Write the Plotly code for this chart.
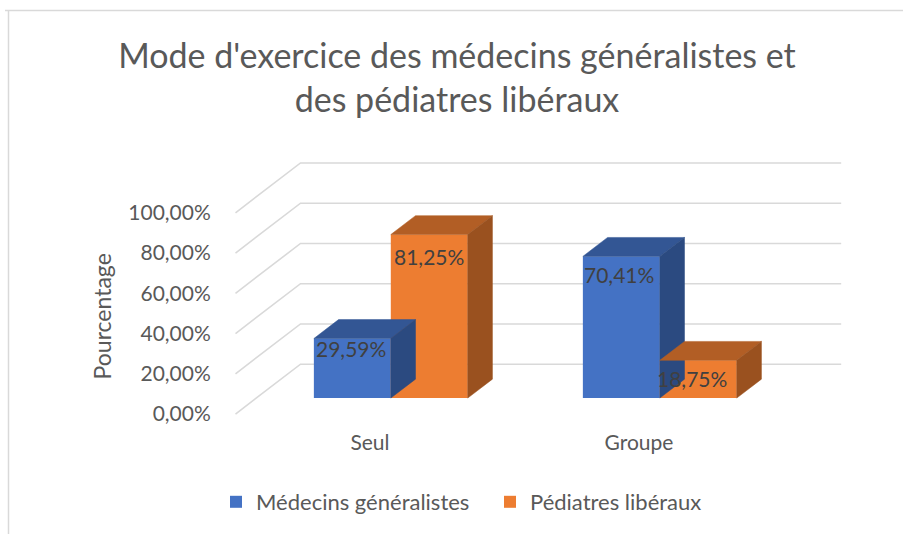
import plotly.graph_objects as go

# ---------------- data ----------------
categories = ["Seul", "Groupe"]
series_names = ["Médecins généralistes", "Pédiatres libéraux"]
medecins = [29.59, 70.41]
pediatres = [81.25, 18.75]
medecins_labels = ["29,59%", "70,41%"]
pediatres_labels = ["81,25%", "18,75%"]
y_ticks = [0, 20, 40, 60, 80, 100]
y_tick_labels = ["0,00%", "20,00%", "40,00%", "60,00%", "80,00%", "100,00%"]

# ---------------- style / geometry ----------------
FONT = "Lato"
TXT = "#595959"
GRID = "#d9d9d9"
FRONT = ["#4472C4", "#ED7D31"]
TOP = ["#335694", "#B25E25"]
SIDE = ["#2B4A80", "#9A511F"]

W, H = 903, 534
L, R, T, B = 230, 58, 150, 114
PX_PER_CAT = 269.0
PX_PER_PCT = 2.02
CAT0_PX = 370.0
ZERO_PX = 415.0
xr = [(L - CAT0_PX) / PX_PER_CAT, (W - R - CAT0_PX) / PX_PER_CAT]
yr = [(ZERO_PX - (H - B)) / PX_PER_PCT, (ZERO_PX - T) / PX_PER_PCT]
DEPTH_X = 65.0 / PX_PER_CAT
DEPTH_Y = 50.0 / PX_PER_PCT
D1, D2 = 0.32, 0.70
XL, XR = -0.5, 1.51
BW = 0.286
ddx = (D2 - D1) * DEPTH_X
ddy = (D2 - D1) * DEPTH_Y
label_yshift = [[-10, -18], [-22, -18]]
label_xshift = [[-1, -2], [0, -6]]

fig = go.Figure()

# gridlines: side wall diagonal + back wall horizontal
for v in y_ticks:
    fig.add_trace(go.Scatter(
        x=[XL, XL + DEPTH_X, XR + DEPTH_X],
        y=[v, v + DEPTH_Y, v + DEPTH_Y],
        mode="lines", line=dict(color=GRID, width=1.6),
        showlegend=False, hoverinfo="skip"))

x_pos = list(range(len(categories)))
series = [medecins, pediatres]
offsets = [-BW, 0.0]

for si, vals in enumerate(series):
    # front faces as real bars on a depth-shifted overlay axis
    fig.add_trace(go.Bar(
        x=x_pos, y=vals, width=BW, offset=offsets[si],
        marker=dict(color=FRONT[si], line=dict(width=0)),
        name=series_names[si], xaxis="x2", yaxis="y2",
        hoverinfo="skip"))
    for ci, v in enumerate(vals):
        x0 = x_pos[ci] + offsets[si]
        x1 = x0 + BW
        # top face
        fig.add_trace(go.Scatter(
            x=[x0, x1, x1 + ddx, x0 + ddx, x0],
            y=[v, v, v + ddy, v + ddy, v],
            fill="toself", fillcolor=TOP[si], mode="lines",
            line=dict(color=TOP[si], width=0.5),
            xaxis="x2", yaxis="y2", showlegend=False, hoverinfo="skip"))
        # side face
        fig.add_trace(go.Scatter(
            x=[x1, x1, x1 + ddx, x1 + ddx, x1],
            y=[0, v, v + ddy, ddy, 0],
            fill="toself", fillcolor=SIDE[si], mode="lines",
            line=dict(color=SIDE[si], width=0.5),
            xaxis="x2", yaxis="y2", showlegend=False, hoverinfo="skip"))

# data labels
all_labels = [medecins_labels, pediatres_labels]
for si, vals in enumerate(series):
    for ci, v in enumerate(vals):
        fig.add_annotation(
            x=x_pos[ci] + offsets[si] + BW / 2, y=v, xref="x2", yref="y2",
            text=all_labels[si][ci], showarrow=False, yanchor="middle",
            yshift=label_yshift[si][ci], xshift=label_xshift[si][ci],
            font=dict(family=FONT, size=21, color="#404040"))

px2x = lambda px: (px - L) / (W - L - R)
py2y = lambda py: (H - B - py) / (H - T - B)

# y-axis title
fig.add_annotation(
    x=px2x(102), y=py2y(317), xref="paper", yref="paper",
    text="Pourcentage", textangle=-90, showarrow=False,
    xanchor="center", yanchor="middle",
    font=dict(family=FONT, size=23, color=TXT))

# chart-area border (left and top edges visible)
fig.add_shape(type="line", xref="paper", yref="paper",
              x0=px2x(8.5), x1=px2x(8.5), y0=py2y(10), y1=py2y(540),
              line=dict(color=GRID, width=1.5))
fig.add_shape(type="line", xref="paper", yref="paper",
              x0=px2x(5), x1=px2x(910), y0=py2y(10), y1=py2y(10),
              line=dict(color=GRID, width=1.5))

fig.update_layout(
    width=W, height=H,
    margin=dict(l=L, r=R, t=T, b=B),
    paper_bgcolor="white", plot_bgcolor="white",
    barmode="overlay",
    font=dict(family=FONT, color=TXT, size=21),
    title=dict(
        text="Mode d'exercice des médecins généralistes et<br>des pédiatres libéraux",
        x=457 / W, xanchor="center", xref="container",
        y=1 - 68 / H, yanchor="top", yref="container",
        font=dict(family=FONT, size=34, color=TXT)),
    xaxis=dict(range=xr, tickvals=x_pos, ticktext=categories,
               showgrid=False, zeroline=False, showline=False,
               ticks="outside", ticklen=5, tickcolor="rgba(0,0,0,0)",
               tickfont=dict(size=21, color=TXT)),
    yaxis=dict(range=yr, tickvals=y_ticks, ticktext=y_tick_labels,
               showgrid=False, zeroline=False, showline=False,
               ticks="outside", ticklen=14, tickcolor="rgba(0,0,0,0)",
               tickfont=dict(size=21, color=TXT)),
    xaxis2=dict(range=[xr[0] - D1 * DEPTH_X, xr[1] - D1 * DEPTH_X],
                overlaying="x", visible=False),
    yaxis2=dict(range=[yr[0] - D1 * DEPTH_Y, yr[1] - D1 * DEPTH_Y],
                overlaying="y", visible=False),
    legend=dict(orientation="h", x=px2x(216), xanchor="left",
                y=py2y(502), yanchor="middle", entrywidth=229,
                font=dict(size=22, color=TXT), itemwidth=30,
                bgcolor="rgba(0,0,0,0)"),
)

fig.write_html("out.html", config={"displayModeBar": False},
               post_script="document.body.style.margin='0';")
